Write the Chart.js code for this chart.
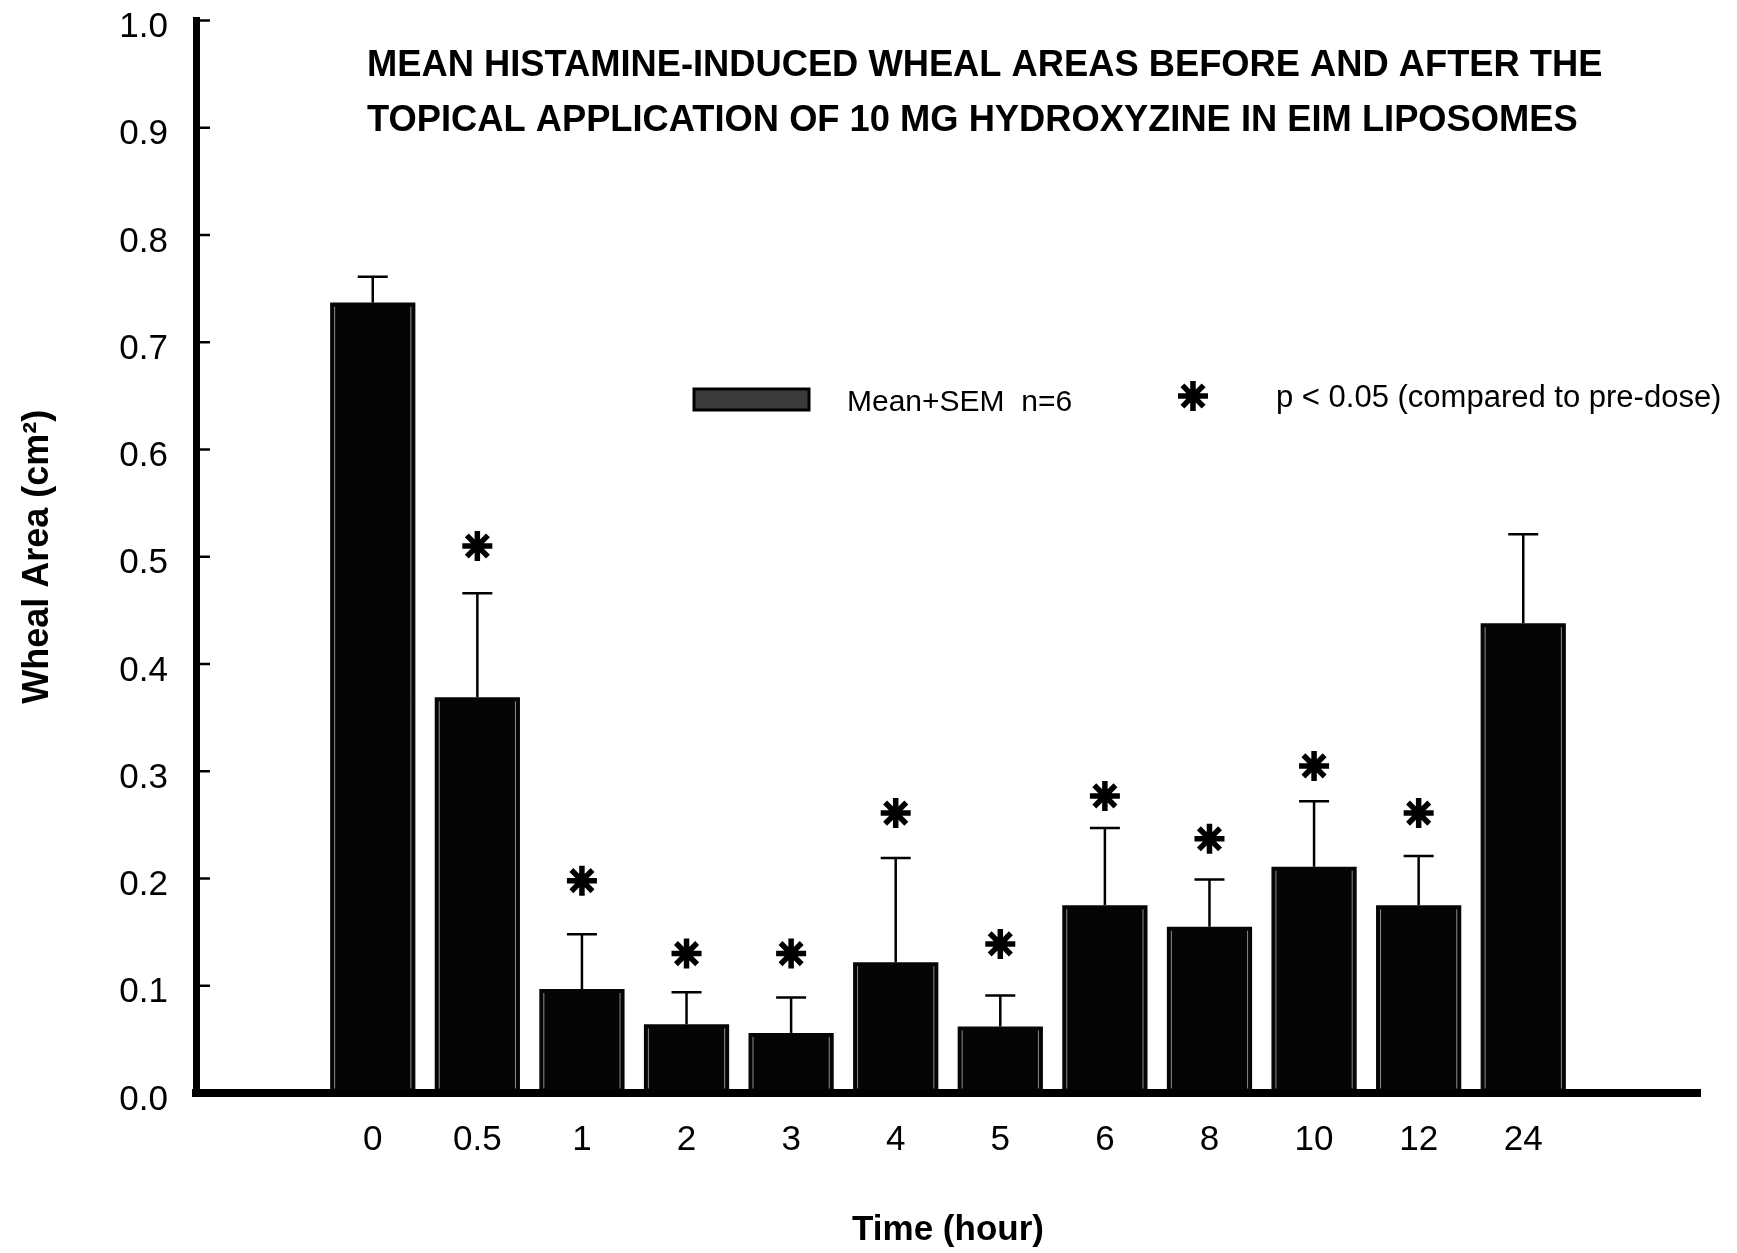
<!DOCTYPE html>
<html>
<head>
<meta charset="utf-8">
<title>Histamine-induced wheal areas</title>
<script src="https://cdn.jsdelivr.net/npm/chart.js@4.4.1/dist/chart.umd.min.js"></script>
<style>
  html, body { margin: 0; padding: 0; background: #fff; }
  #wrap { width: 1737px; height: 1253px; }
</style>
</head>
<body>
<div id="wrap"><canvas id="whealChart"></canvas></div>
<script>
// time points (hours after dose)
var timeLabels = ['0', '0.5', '1', '2', '3', '4', '5', '6', '8', '10', '12', '24'];
// mean wheal area, cm2
var meanArea = [0.737, 0.369, 0.097, 0.064, 0.056, 0.122, 0.062, 0.175, 0.155, 0.211, 0.175, 0.438];
// standard error of the mean, cm2
var semArea = [0.024, 0.097, 0.051, 0.030, 0.033, 0.097, 0.029, 0.072, 0.044, 0.061, 0.046, 0.083];
// height of the significance asterisk above each bar (null = not significant)
var starLevel = [null, 0.510, 0.198, 0.130, 0.130, 0.261, 0.139, 0.277, 0.237, 0.305, 0.261, null];

var titleLines = [
    'MEAN HISTAMINE-INDUCED WHEAL AREAS BEFORE AND AFTER THE',
    'TOPICAL APPLICATION OF 10 MG HYDROXYZINE IN EIM LIPOSOMES'
];
var legendBarText = 'Mean+SEM  n=6';
var legendStarText = 'p < 0.05 (compared to pre-dose)';

var FONT = '"Liberation Sans", Arial, Helvetica, sans-serif';
Chart.defaults.font.family = FONT;
Chart.defaults.color = '#000';

function drawAsterisk(ctx, x, y, r) {
    ctx.beginPath();
    for (var k = 0; k < 4; k++) {
        var a = k * Math.PI / 4;
        ctx.moveTo(x - r * Math.cos(a), y - r * Math.sin(a));
        ctx.lineTo(x + r * Math.cos(a), y + r * Math.sin(a));
    }
    ctx.stroke();
}

var extras = {
    id: 'extras',
    afterDatasetsDraw: function (chart) {
        var ctx = chart.ctx;
        var yScale = chart.scales.y;
        var bars = chart.getDatasetMeta(0).data;
        ctx.save();
        bars.forEach(function (bar, i) {
            var p = bar.getProps(['x', 'y', 'base', 'width'], true);
            // faint inner edge lines of the stippled bars
            ctx.strokeStyle = '#8c8c8c';
            ctx.lineWidth = 1;
            ctx.beginPath();
            ctx.moveTo(p.x - p.width / 2 + 4.5, p.y + 4);
            ctx.lineTo(p.x - p.width / 2 + 4.5, p.base - 4);
            ctx.moveTo(p.x + p.width / 2 - 4.5, p.y + 4);
            ctx.lineTo(p.x + p.width / 2 - 4.5, p.base - 4);
            ctx.stroke();
            // SEM whisker
            var top = yScale.getPixelForValue(meanArea[i] + semArea[i]);
            ctx.strokeStyle = '#000';
            ctx.lineWidth = 2.5;
            ctx.beginPath();
            ctx.moveTo(p.x, p.y);
            ctx.lineTo(p.x, top);
            ctx.moveTo(p.x - 15, top);
            ctx.lineTo(p.x + 15, top);
            ctx.stroke();
        });
        ctx.restore();
    },
    afterDraw: function (chart) {
        var ctx = chart.ctx;
        var area = chart.chartArea;
        var yScale = chart.scales.y;
        ctx.save();

        // inward tick marks on the y axis
        ctx.strokeStyle = '#000';
        ctx.lineWidth = 2.5;
        yScale.ticks.forEach(function (t) {
            var py = yScale.getPixelForValue(t.value);
            ctx.beginPath();
            ctx.moveTo(area.left, py);
            ctx.lineTo(area.left + 14, py);
            ctx.stroke();
        });

        // two-line heading inside the plot
        ctx.fillStyle = '#000';
        ctx.textAlign = 'left';
        ctx.textBaseline = 'alphabetic';
        ctx.font = 'bold 36.3px ' + FONT;
        ctx.fillText(titleLines[0], 367, 75.5);
        ctx.fillText(titleLines[1], 367, 131);

        // legend: bar swatch
        ctx.fillStyle = '#3a3a3a';
        ctx.fillRect(694, 389, 115, 21);
        ctx.strokeStyle = '#000';
        ctx.lineWidth = 3;
        ctx.strokeRect(694, 389, 115, 21);
        ctx.fillStyle = '#000';
        ctx.font = '30px ' + FONT;
        ctx.fillText(legendBarText, 847, 411);

        // legend: significance asterisk
        ctx.lineWidth = 5.5;
        drawAsterisk(ctx, 1193, 396, 15);
        ctx.font = '31px ' + FONT;
        ctx.fillText(legendStarText, 1276, 407);

        ctx.restore();
    }
};

var ctx = document.getElementById('whealChart').getContext('2d');
new Chart(ctx, {
    type: 'bar',
    data: {
        datasets: [
            {
                label: legendBarText,
                data: meanArea.map(function (v, i) { return { x: i, y: v }; }),
                backgroundColor: '#050505',
                borderWidth: 0,
                barPercentage: 1,
                categoryPercentage: 0.815,
                order: 2
            },
            {
                type: 'scatter',
                label: legendStarText,
                data: starLevel
                    .map(function (v, i) { return v === null ? null : { x: i, y: v }; })
                    .filter(function (p) { return p !== null; }),
                pointStyle: 'star',
                radius: 15,
                borderWidth: 5.5,
                borderColor: '#000',
                backgroundColor: '#000',
                order: 1
            }
        ]
    },
    options: {
        responsive: true,
        maintainAspectRatio: false,
        devicePixelRatio: 1,
        animation: false,
        layout: { padding: { left: 0, top: 16, right: 37, bottom: 0 } },
        plugins: {
            legend: { display: false },
            tooltip: { enabled: false }
        },
        scales: {
            x: {
                type: 'linear',
                offset: false,
                min: -1.69,
                max: 12.69,
                afterBuildTicks: function (scale) {
                    scale.ticks = timeLabels.map(function (_, i) { return { value: i }; });
                },
                afterFit: function (scale) {
                    scale.height = 160;
                    scale.paddingLeft = 0;
                    scale.paddingRight = 0;
                },
                ticks: {
                    autoSkip: false,
                    maxRotation: 0,
                    padding: 26,
                    font: { size: 35 },
                    callback: function (value) { return timeLabels[value]; }
                },
                grid: { offset: false, drawOnChartArea: false, drawTicks: false },
                border: { color: '#000', width: 8, z: 1 },
                title: {
                    display: true,
                    text: 'Time (hour)',
                    font: { size: 35, weight: 'bold' },
                    padding: { top: 0, bottom: 2 }
                }
            },
            y: {
                min: 0,
                max: 1,
                afterFit: function (scale) {
                    scale.width = 196;
                    scale.paddingTop = 0;
                    scale.paddingBottom = 0;
                },
                ticks: {
                    stepSize: 0.1,
                    padding: 28,
                    labelOffset: 7,
                    font: { size: 35 },
                    callback: function (value) { return value.toFixed(1); }
                },
                grid: { drawOnChartArea: false, drawTicks: false },
                border: { color: '#000', width: 7, z: 1 },
                title: {
                    display: true,
                    text: 'Wheal Area (cm²)',
                    font: { size: 36, weight: 'bold' },
                    padding: { top: 16, bottom: 0 }
                }
            }
        }
    },
    plugins: [extras]
});
</script>
</body>
</html>
